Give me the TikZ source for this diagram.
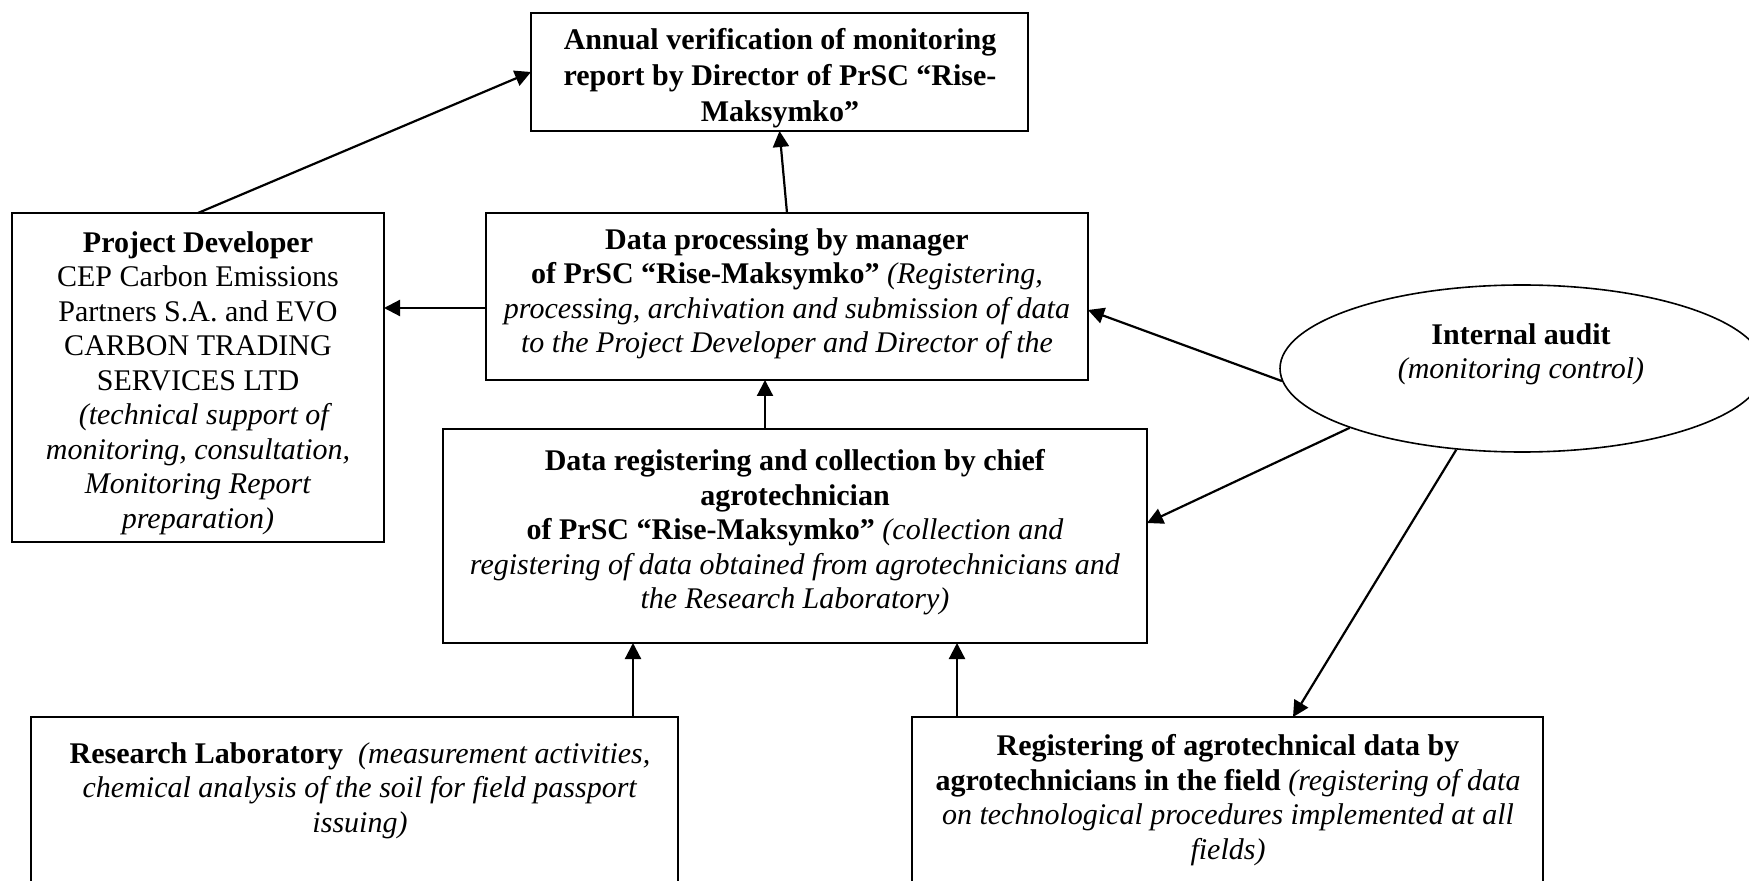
\documentclass[tikz,border=0pt]{standalone}
\usepackage{fontspec}
\setmainfont{Liberation Serif}
\usetikzlibrary{arrows.meta,shapes.geometric}
\begin{document}
\begin{tikzpicture}[x=0.5pt,y=-0.5pt,
  box/.style={draw, line width=0.8pt, inner sep=0pt, outer sep=0pt},
  txt/.style={align=center, inner sep=0pt, anchor=north, font=\fontsize{15}{17.25}\selectfont},
  arr/.style={line width=1.1pt, -{Triangle[length=8pt,width=8pt]}}]
\useasboundingbox (0,0) rectangle (1749,881);
\clip (0,0) rectangle (1749,881);

% boxes
\node[box, minimum width=248.5pt, minimum height=59pt] (top) at (779.5,72) {};
\node[txt, font=\fontsize{15}{18}\selectfont] (toptxt) at (780,28)
  {\textbf{Annual verification of monitoring}\\\textbf{report by Director of PrSC “Rise-}\\\textbf{Maksymko”}};

\node[box, minimum width=186pt, minimum height=164.5pt] (pd) at (198,377.5) {};
\node[txt] (pdtxt) at (198,231)
  {\textbf{Project Developer}\\CEP Carbon Emissions\\Partners S.A. and EVO\\CARBON TRADING\\SERVICES LTD\\\hspace{0.5em}\textit{(technical support of}\\\textit{monitoring, consultation,}\\\textit{Monitoring Report}\\\textit{preparation)}};

\node[box, minimum width=301pt, minimum height=83.5pt] (dp) at (787,296.5) {};
\node[txt] (dptxt) at (787,228)
  {\textbf{Data processing by manager}\\\textbf{of PrSC “Rise-Maksymko”} \textit{(Registering,}\\\textit{processing, archivation and submission of data}\\\textit{to the Project Developer and Director of the}};

\node[box, minimum width=352pt, minimum height=107pt] (dr) at (795,536) {};
\node[txt] (drtxt) at (795,449)
  {\textbf{Data registering and collection by chief}\\\textbf{agrotechnician}\\\textbf{of PrSC “Rise-Maksymko”} \textit{(collection and}\\\textit{registering of data obtained from agrotechnicians and}\\\textit{the Research Laboratory)}};

\node[box, minimum width=323.5pt, minimum height=94pt] (rl) at (354.5,811) {};
\node[txt] (rltxt) at (360,742)
  {\textbf{Research Laboratory}\ \ \textit{(measurement activities,}\\\textit{chemical analysis of the soil for field passport}\\\textit{issuing)}};

\node[box, minimum width=315.5pt, minimum height=94pt] (ra) at (1227.5,811) {};
\node[txt] (ratxt) at (1228,734)
  {\textbf{Registering of agrotechnical data by}\\\textbf{agrotechnicians in the field} \textit{(registering of data}\\\textit{on technological procedures implemented at all}\\\textit{fields)}};

\node[ellipse, draw, line width=0.8pt, minimum width=242pt, minimum height=83.5pt, inner sep=0pt] (ia) at (1522,368.5) {};
\node[txt] (iatxt) at (1521,323) {\textbf{Internal audit}\\\textit{(monitoring control)}};

% helper coordinates
\coordinate (h1) at (0,308);
\coordinate (h2) at (0,310);
\coordinate (h3) at (0,523);
\coordinate (v1) at (765,0);
\coordinate (v2) at (633,0);
\coordinate (v3) at (957,0);
\coordinate (v4) at (1293,0);

% connectors
\draw[arr] (pd.north) -- (top.west);
\draw[arr] (dp.north) -- (top.south);
\draw[arr] (dp.west |- h1) -- (pd.east |- h1);
\draw[arr] (dr.north -| v1) -- (dp.south -| v1);
\draw[arr] (rl.north -| v2) -- (dr.south -| v2);
\draw[arr] (ra.north -| v3) -- (dr.south -| v3);
\draw[arr] (ia.183) -- (dp.east |- h2);
\draw[arr] (ia.199) -- (dr.east |- h3);
\draw[arr] (ia.231) -- (ra.north -| v4);
\end{tikzpicture}
\end{document}
